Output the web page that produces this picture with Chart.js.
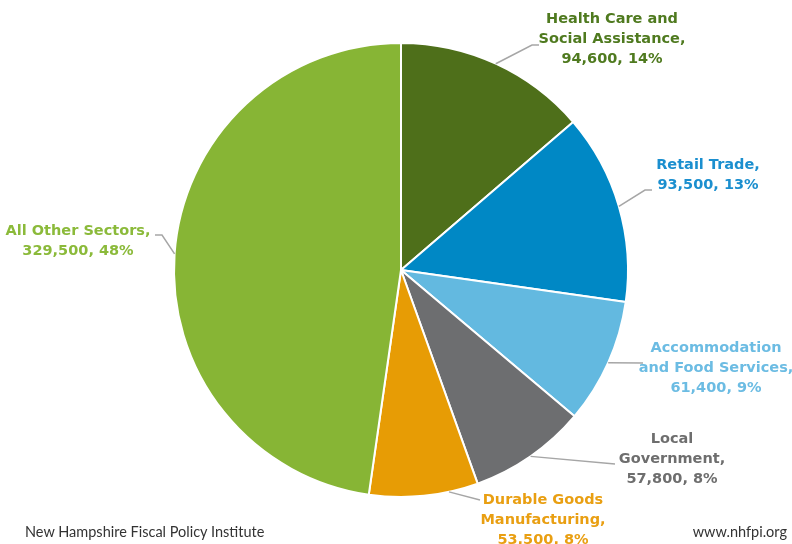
<!DOCTYPE html>
<html>
<head>
<meta charset="utf-8">
<script src="https://cdn.jsdelivr.net/npm/chart.js@4.4.1/dist/chart.umd.min.js"></script>
<style>
  html, body { margin: 0; padding: 0; background: #fff; }
  #wrap { position: relative; width: 792px; height: 544px; }
  .foot { position: absolute; top: 523px; font-family: Lato, sans-serif; font-size: 14.5px; color: #333; }
</style>
</head>
<body>
<div id="wrap">
  <canvas id="grafica" width="792" height="544"></canvas>
  <div class="foot" style="left:25px">New Hampshire Fiscal Policy Institute</div>
  <div class="foot" style="right:5px">www.nhfpi.org</div>
</div>
<script>
// sectors, clockwise from 12 o'clock
const sectores = [
  ['Health Care and', 'Social Assistance,'],
  ['Retail Trade,'],
  ['Accommodation', 'and Food Services,'],
  ['Local', 'Government,'],
  ['Durable Goods', 'Manufacturing,'],
  ['All Other Sectors,']
];
const empleos = [94600, 93500, 61400, 57800, 53500, 329500];
const porcentajes = ['14%', '13%', '9%', '8%', '8%', '48%'];

const colores = ['#4e6f1a', '#0088c5', '#63b9e0', '#6d6e70', '#e79c05', '#87b535'];
const coloresTexto = ['#4f7a1f', '#1b8fcf', '#6cbce3', '#6e6e6e', '#e99f12', '#8bba3a'];

// label placement: where the leader leaves the slice (fraction of the slice),
// its elbow / end points, and the text block (center x, first line y)
const etiquetas = [
  { f: 0.5,  pts: [[532, 45], [539, 45]], x: 612, y: 19 },
  { f: 0.5,  pts: [[645, 190], [652, 190]], x: 708, y: 165 },
  { f: 0.5,  pts: [[643, 363]], x: 716, y: 348 },
  { f: 0.5,  pts: [[615, 464]], x: 672, y: 439 },
  { f: 0.27, pts: [[480, 500]], x: 543, y: 500 },
  { f: 0.5,  pts: [[162, 235], [155, 235]], x: 78, y: 231 }
];

function fmt(n) {
  return n.toLocaleString('en-US');
}

const etiquetasPlugin = {
  id: 'etiquetas',
  afterDraw(chart) {
    const ctx = chart.ctx;
    const arcs = chart.getDatasetMeta(0).data;
    ctx.save();
    arcs.forEach(function(arc, i) {
      const p = arc.getProps(['x', 'y', 'startAngle', 'endAngle', 'outerRadius'], true);
      const e = etiquetas[i];
      const a = p.startAngle + (p.endAngle - p.startAngle) * e.f;
      const sx = p.x + Math.cos(a) * p.outerRadius;
      const sy = p.y + Math.sin(a) * p.outerRadius;
      ctx.strokeStyle = '#a6a6a6';
      ctx.lineWidth = 1.5;
      ctx.beginPath();
      ctx.moveTo(sx, sy);
      e.pts.forEach(function(q) { ctx.lineTo(q[0], q[1]); });
      ctx.stroke();

      const lineas = sectores[i].concat([fmt(empleos[i]) + ', ' + porcentajes[i]]);
      ctx.fillStyle = coloresTexto[i];
      ctx.font = 'bold 14.5px "DejaVu Sans", sans-serif';
      ctx.textAlign = 'center';
      ctx.textBaseline = 'middle';
      lineas.forEach(function(t, k) {
        ctx.fillText(t, e.x, e.y + k * 20);
      });
    });
    ctx.restore();
  }
};

const ctx = document.getElementById('grafica').getContext('2d');
const ch = new Chart(ctx, {
  type: 'pie',
  data: {
    labels: sectores.map(function(s) { return s.join(' '); }),
    datasets: [{
      data: empleos,
      backgroundColor: colores,
      borderColor: '#ffffff',
      borderWidth: 2
    }]
  },
  options: {
    responsive: false,
    animation: false,
    layout: { padding: { top: 42, bottom: 46, left: 10, right: 0 } },
    plugins: {
      legend: { display: false },
      tooltip: { enabled: false }
    }
  },
  plugins: [etiquetasPlugin]
});
</script>
</body>
</html>
